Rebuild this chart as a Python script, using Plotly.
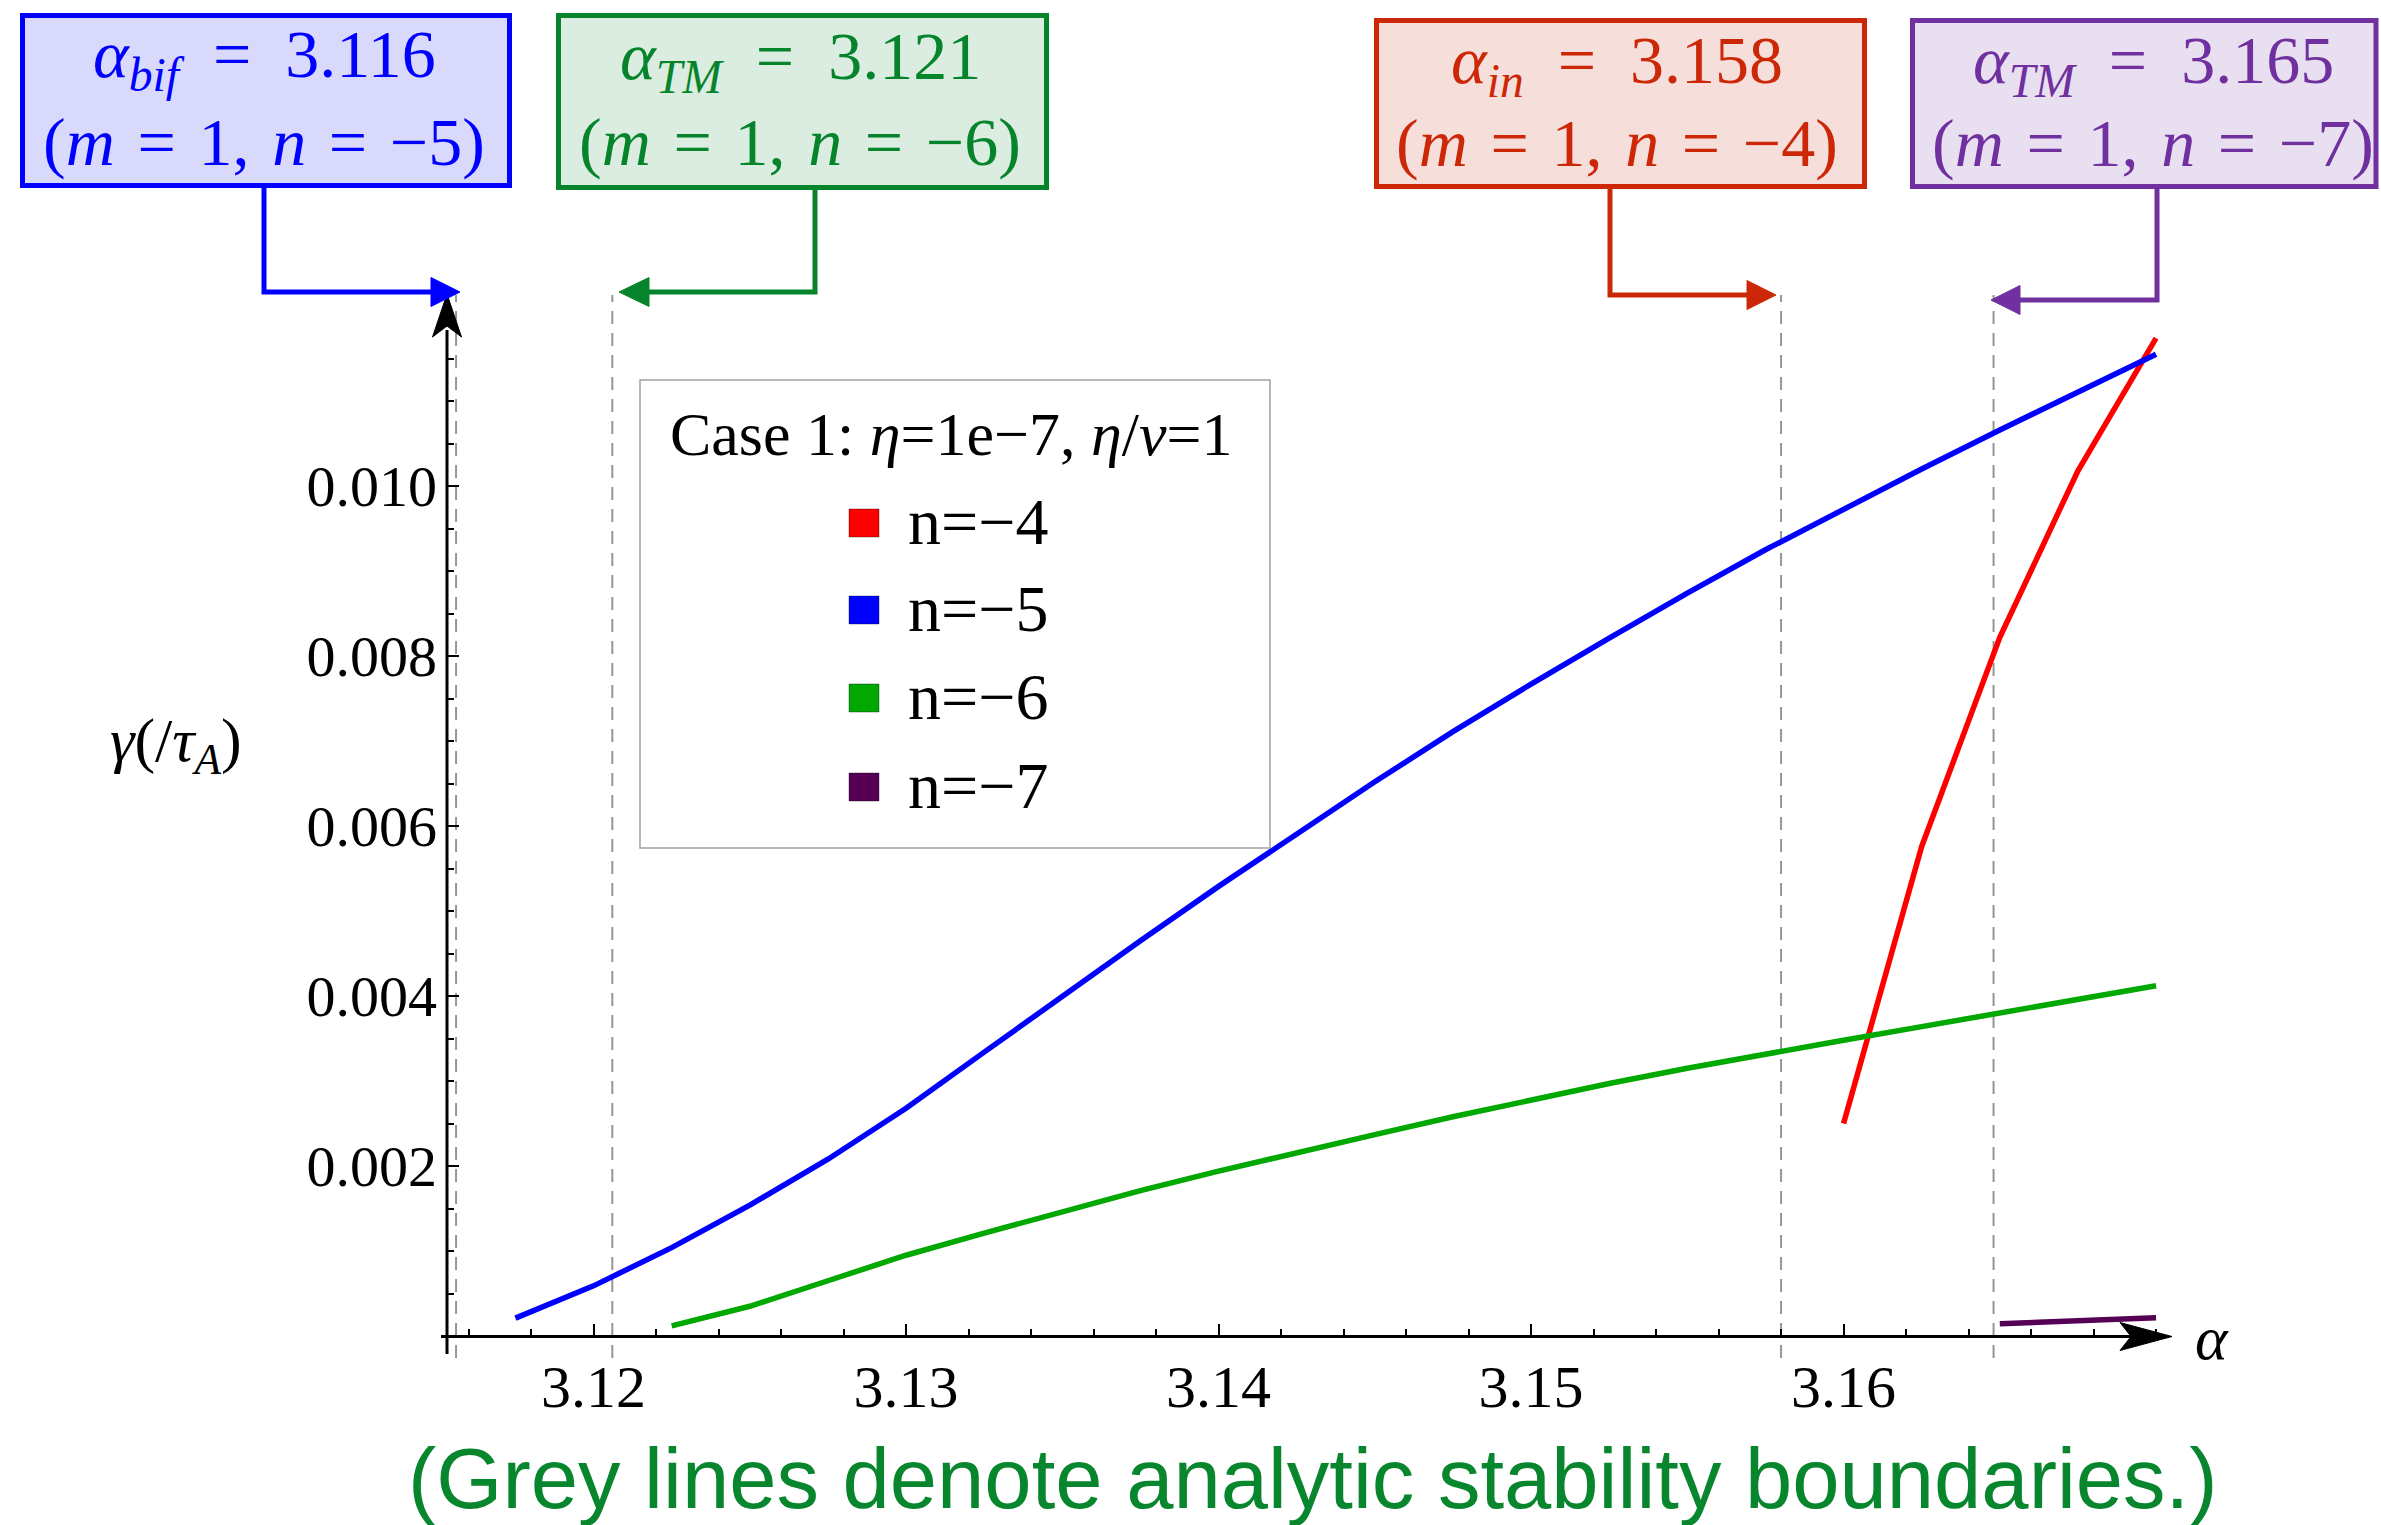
import plotly.graph_objects as go

# ---------------- data ----------------
alpha_n4 = [3.16, 3.1625, 3.165, 3.1675, 3.17]
gamma_n4 = [0.00250, 0.00576, 0.00822, 0.01018, 0.01174]

alpha_n5 = [3.1175, 3.12, 3.1225, 3.125, 3.1275, 3.13, 3.1325, 3.135, 3.1375, 3.14, 3.1425,
            3.145, 3.1475, 3.15, 3.1525, 3.155, 3.1575, 3.16, 3.1625, 3.165, 3.1675, 3.17]
gamma_n5 = [0.00021, 0.00059, 0.00104, 0.00154, 0.00208, 0.00268, 0.00334, 0.00400, 0.00465,
            0.00529, 0.00591, 0.00652, 0.00711, 0.00767, 0.00821, 0.00874, 0.00925, 0.00973,
            0.01020, 0.01066, 0.01111, 0.01155]

alpha_n6 = [3.1225, 3.125, 3.1275, 3.13, 3.1325, 3.135, 3.1375, 3.14, 3.1425, 3.145, 3.1475,
            3.15, 3.1525, 3.155, 3.1575, 3.16, 3.1625, 3.165, 3.1675, 3.17]
gamma_n6 = [0.00012, 0.00035, 0.00065, 0.00095, 0.00121, 0.00146, 0.00171, 0.00194, 0.00216,
            0.00237, 0.00258, 0.00278, 0.00297, 0.00315, 0.00332, 0.00348, 0.00364, 0.00380,
            0.00396, 0.00412]

alpha_n7 = [3.165, 3.1675, 3.17]
gamma_n7 = [0.000145, 0.000180, 0.000215]

series_names = ["n=−4", "n=−5", "n=−6", "n=−7"]
series_alpha = [alpha_n4, alpha_n5, alpha_n6, alpha_n7]
series_gamma = [gamma_n4, gamma_n5, gamma_n6, gamma_n7]
series_colors = ["#ff0000", "#0000ff", "#00a800", "#550055"]

boundaries = [3.1156, 3.1206, 3.1580, 3.1648]

x_tickvals = [3.12, 3.13, 3.14, 3.15, 3.16]
x_ticktext = ["3.12", "3.13", "3.14", "3.15", "3.16"]
y_tickvals = [0.002, 0.004, 0.006, 0.008, 0.010]
y_ticktext = ["0.002", "0.004", "0.006", "0.008", "0.010"]

SP1 = "\u2002"   # en space (math-style spacing around '=')
SP2 = "\u2004"   # three-per-em space
box_line1 = ["<i>α</i><sub><i>bif</i></sub>" + SP1 + "=" + SP1 + "3.116",
             "<i>α</i><sub><i>TM</i></sub>" + SP1 + "=" + SP1 + "3.121",
             "<i>α</i><sub><i>in</i></sub>" + SP1 + "=" + SP1 + "3.158",
             "<i>α</i><sub><i>TM</i></sub>" + SP1 + "=" + SP1 + "3.165"]
box_line2 = ["(<i>m</i>{0}={0}1,{0}<i>n</i>{0}={0}−{1})".format(SP2, k) for k in ("5", "6", "4", "7")]

legend_title = "Case 1: <i>η</i>=1e−7, <i>η</i>/<i>ν</i>=1"
footnote = "(Grey lines denote analytic stability boundaries.)"

# ---------------- geometry ----------------
W, H = 2381, 1525
L, R, T, B = 447, 2172, 297, 1336          # plot-area pixel box
x_range = [3.11531, 3.17051]
y_range = [0.0, 0.012224]


def px(x):
    return (x - L) / (R - L)


def py(y):
    return (B - y) / (B - T)


SERIF = "Liberation Serif"
shapes = []
annotations = []

fig = go.Figure()
for name, a, g, c in zip(series_names, series_alpha, series_gamma, series_colors):
    fig.add_trace(go.Scatter(x=a, y=g, mode="lines", name=name,
                             line=dict(color=c, width=5.5), hoverinfo="skip"))

# grey dashed analytic boundaries
for b in boundaries:
    shapes.append(dict(type="line", xref="x", yref="paper", x0=b, x1=b,
                       y0=py(1358), y1=py(295),
                       line=dict(color="rgb(150,150,150)", width=2, dash="13px,9px"),
                       layer="below"))

# axis lines with arrowheads
shapes.append(dict(type="line", xref="paper", yref="paper", x0=px(447), x1=px(447),
                   y0=py(1354), y1=py(330), line=dict(color="black", width=3)))
shapes.append(dict(type="line", xref="paper", yref="paper", x0=px(441), x1=px(2135),
                   y0=py(1336.5), y1=py(1336.5), line=dict(color="black", width=3)))


def tri(pts, color, notch=None):
    p = "M {},{}".format(px(pts[0][0]), py(pts[0][1]))
    p += " L {},{}".format(px(pts[1][0]), py(pts[1][1]))
    if notch is not None:
        p += " L {},{}".format(px(notch[0]), py(notch[1]))
    p += " L {},{} Z".format(px(pts[2][0]), py(pts[2][1]))
    return dict(type="path", xref="paper", yref="paper", path=p, fillcolor=color,
                line=dict(color=color, width=1))


shapes.append(tri([(447, 294), (432.5, 337), (461.5, 337)], "black", notch=(447, 326)))
shapes.append(tri([(2172, 1336.5), (2120, 1322.5), (2120, 1350.5)], "black", notch=(2131, 1336.5)))

# info boxes with connectors
box_fill = ["rgb(217,217,251)", "rgb(219,236,224)", "rgb(246,222,218)", "rgb(232,224,240)"]
box_col = ["rgb(0,0,255)", "rgb(6,132,44)", "rgb(204,40,8)", "rgb(112,48,160)"]
box_rect = [(22.5, 15.5, 509.5, 185.5), (558.5, 15.5, 1046.5, 187.5),
            (1376.5, 20.5, 1864.5, 186.5), (1912.5, 20.5, 2376, 186.5)]
text_cx = [264, 800, 1617, 2153]
line1_y = [58, 60, 64, 64]
line2_y = [142, 142, 143, 143]
# connector: (x_vertical, y_top, y_horizontal, x_back, x_tip)
conn = [(264, 188, 292, 431, 460), (815, 190, 292, 649, 619),
        (1610, 189, 295, 1747, 1776), (2157, 189, 300, 2020, 1991)]

for i in range(4):
    x0, y0, x1, y1 = box_rect[i]
    shapes.append(dict(type="rect", xref="paper", yref="paper", x0=px(x0), x1=px(x1),
                       y0=py(y0), y1=py(y1), fillcolor=box_fill[i],
                       line=dict(color=box_col[i], width=5)))
    xv, yt, yh, xb, xt = conn[i]
    shapes.append(dict(type="path", xref="paper", yref="paper",
                       path="M {},{} L {},{} L {},{}".format(px(xv), py(yt), px(xv), py(yh),
                                                              px(xb), py(yh)),
                       line=dict(color=box_col[i], width=5)))
    shapes.append(tri([(xt, yh), (xb, yh - 14.5), (xb, yh + 14.5)], box_col[i]))
    for txt, yy in ((box_line1[i], line1_y[i]), (box_line2[i], line2_y[i])):
        annotations.append(dict(xref="paper", yref="paper", x=px(text_cx[i]), y=py(yy),
                                text=txt, showarrow=False, xanchor="center", yanchor="middle",
                                font=dict(family=SERIF, size=68, color=box_col[i])))

# custom legend
shapes.append(dict(type="rect", xref="paper", yref="paper", x0=px(640), x1=px(1270),
                   y0=py(380), y1=py(848), fillcolor="white",
                   line=dict(color="rgb(160,160,160)", width=1.5)))
annotations.append(dict(xref="paper", yref="paper", x=px(951), y=py(434), text=legend_title,
                        showarrow=False, xanchor="center", yanchor="middle",
                        font=dict(family=SERIF, size=62, color="black")))
leg_y = [523, 610, 698, 787]
for name, c, yy in zip(series_names, series_colors, leg_y):
    shapes.append(dict(type="rect", xref="paper", yref="paper", x0=px(849), x1=px(879),
                       y0=py(yy - 14), y1=py(yy + 14), fillcolor=c,
                       line=dict(color="rgba(0,0,0,0.35)", width=1)))
    annotations.append(dict(xref="paper", yref="paper", x=px(906), y=py(yy - 2), text=name,
                            showarrow=False, xanchor="left", yanchor="middle",
                            font=dict(family=SERIF, size=66, color="black")))

# axis titles
annotations.append(dict(xref="paper", yref="paper", x=px(176), y=py(744),
                        text="<i>γ</i>(/<i>τ</i><sub><i>A</i></sub>)", showarrow=False,
                        xanchor="center", yanchor="middle",
                        font=dict(family=SERIF, size=62, color="black")))
annotations.append(dict(xref="paper", yref="paper", x=px(2212), y=py(1338), text="<i>α</i>",
                        showarrow=False, xanchor="center", yanchor="middle",
                        font=dict(family=SERIF, size=62, color="black")))

# footnote
annotations.append(dict(xref="paper", yref="paper", x=px(1313), y=py(1478), text=footnote,
                        showarrow=False, xanchor="center", yanchor="middle",
                        font=dict(family="Liberation Sans, sans-serif",
                                  size=85, color="rgb(8,134,46)")))

fig.update_layout(
    width=W, height=H,
    margin=dict(l=L, r=W - R, t=T, b=H - B, pad=0, autoexpand=False),
    paper_bgcolor="white", plot_bgcolor="white",
    showlegend=False, hovermode=False,
    shapes=shapes, annotations=annotations,
    xaxis=dict(range=x_range, showline=False, showgrid=False, zeroline=False,
               ticks="inside", ticklen=12, tickwidth=2, tickcolor="black",
               tickmode="array", tickvals=x_tickvals, ticktext=x_ticktext,
               tickfont=dict(family=SERIF, size=60, color="black"),
               ticklabelstandoff=10, automargin=False,
               minor=dict(ticks="inside", ticklen=7, tickwidth=2, tickcolor="black",
                          tickmode="linear", tick0=3.12, dtick=0.002, showgrid=False)),
    yaxis=dict(range=y_range, showline=False, showgrid=False, zeroline=False,
               ticks="inside", ticklen=12, tickwidth=2, tickcolor="black",
               tickmode="array", tickvals=y_tickvals, ticktext=y_ticktext,
               tickfont=dict(family=SERIF, size=58, color="black"),
               ticklabelstandoff=9, automargin=False,
               minor=dict(ticks="inside", ticklen=7, tickwidth=2, tickcolor="black",
                          tickmode="linear", tick0=0, dtick=0.0005, showgrid=False)),
)

fig.write_html("out.html", config={"displayModeBar": False},
               post_script="document.body.style.margin='0px';document.body.style.overflow='hidden';")
